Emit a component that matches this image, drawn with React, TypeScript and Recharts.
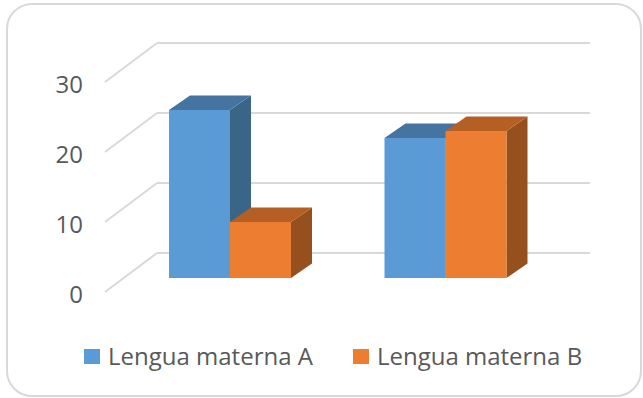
import React from "react";
import { BarChart, Bar, XAxis, YAxis, CartesianGrid, Legend } from "recharts";

// Two groups, two mother-tongue series
const categories = ["1", "2"];
const lenguaA = [24, 20];
const lenguaB = [8, 21];
const yTicks = [0, 10, 20, 30];

const data = categories.map((name, i) => ({
  name,
  "Lengua materna A": lenguaA[i],
  "Lengua materna B": lenguaB[i],
}));

const FONT = "'Open Sans', sans-serif";
const TEXT_COLOR = "#595959";
const GRID_COLOR = "#d9d9d9";

// depth of the fake 3D extrusion
const DX = 21;
const DY = 14.5;

const colors = {
  a: { front: "#5b9bd5", top: "#44749f", side: "#3a6587" },
  b: { front: "#ed7d31", top: "#b65f24", side: "#95501d" },
};

const makeBox = (c: { front: string; top: string; side: string }) => (props: any) => {
  const { x, y, width: w, height: h } = props;
  if (h == null || w == null) return <g />;
  const top = `${x},${y} ${x + DX},${y - DY} ${x + w + DX},${y - DY} ${x + w},${y}`;
  const side = `${x + w},${y} ${x + w + DX},${y - DY} ${x + w + DX},${y + h - DY} ${x + w},${y + h}`;
  return (
    <g>
      <polygon points={side} fill={c.side} />
      <polygon points={top} fill={c.top} />
      <rect x={x} y={y} width={w} height={h} fill={c.front} />
    </g>
  );
};

// back wall line plus the slanted side-wall line for each value
const gridLine = (props: any) => {
  const { x1, x2, y1, key } = props;
  const back = y1 - 25;
  return (
    <g key={key}>
      <line x1={x1 - 17} y1={y1 + 14} x2={x1 + 35} y2={back} stroke={GRID_COLOR} strokeWidth={2} />
      <line x1={x1 + 35} y1={back} x2={x2 + 37} y2={back} stroke={GRID_COLOR} strokeWidth={2} />
    </g>
  );
};

const YTick = (props: any) => {
  const { x, y, payload } = props;
  return (
    <text
      x={x - 31}
      y={y + 15}
      textAnchor="end"
      dominantBaseline="central"
      fill={TEXT_COLOR}
      fontFamily={FONT}
      fontSize={24}
    >
      {payload.value}
    </text>
  );
};

const legendItems = [
  { label: "Lengua materna A", color: colors.a.front },
  { label: "Lengua materna B", color: colors.b.front },
];

const LegendContent = () => (
  <div style={{ display: "flex", height: 36, alignItems: "center", paddingLeft: 84 }}>
    {legendItems.map((it, i) => (
      <div key={it.label} style={{ display: "flex", alignItems: "center", marginRight: i === 0 ? 40 : 0 }}>
        <span style={{ width: 16, height: 15, background: it.color, display: "inline-block", marginRight: 8 }} />
        <span style={{ fontFamily: FONT, fontSize: 24, color: TEXT_COLOR, lineHeight: "36px" }}>{it.label}</span>
      </div>
    ))}
  </div>
);

export default function App() {
  return (
    <div style={{ position: "absolute", left: 0, top: 0, width: 643, height: 398, background: "#fff" }}>
      <div
        style={{
          position: "absolute",
          left: 6,
          top: 3,
          width: 632,
          height: 390,
          border: `2px solid ${GRID_COLOR}`,
          borderRadius: 26,
        }}
      />
      <BarChart
        width={643}
        height={398}
        data={data}
        margin={{ top: 68, right: 90, left: 62, bottom: 84 }}
        barGap={0}
        barSize={61}
        style={{ position: "absolute", left: 0, top: 0 }}
      >
        <CartesianGrid vertical={false} horizontal={gridLine} />
        <XAxis dataKey="name" hide />
        <YAxis
          domain={[0, 30]}
          ticks={yTicks}
          width={60}
          axisLine={false}
          tickLine={false}
          tick={<YTick />}
        />
        <Legend
          verticalAlign="bottom"
          content={<LegendContent />}
          wrapperStyle={{ position: "absolute", left: 0, top: 338, width: 643, height: 36 }}
        />
        <Bar dataKey="Lengua materna A" shape={makeBox(colors.a)} isAnimationActive={false} />
        <Bar dataKey="Lengua materna B" shape={makeBox(colors.b)} isAnimationActive={false} />
      </BarChart>
    </div>
  );
}
